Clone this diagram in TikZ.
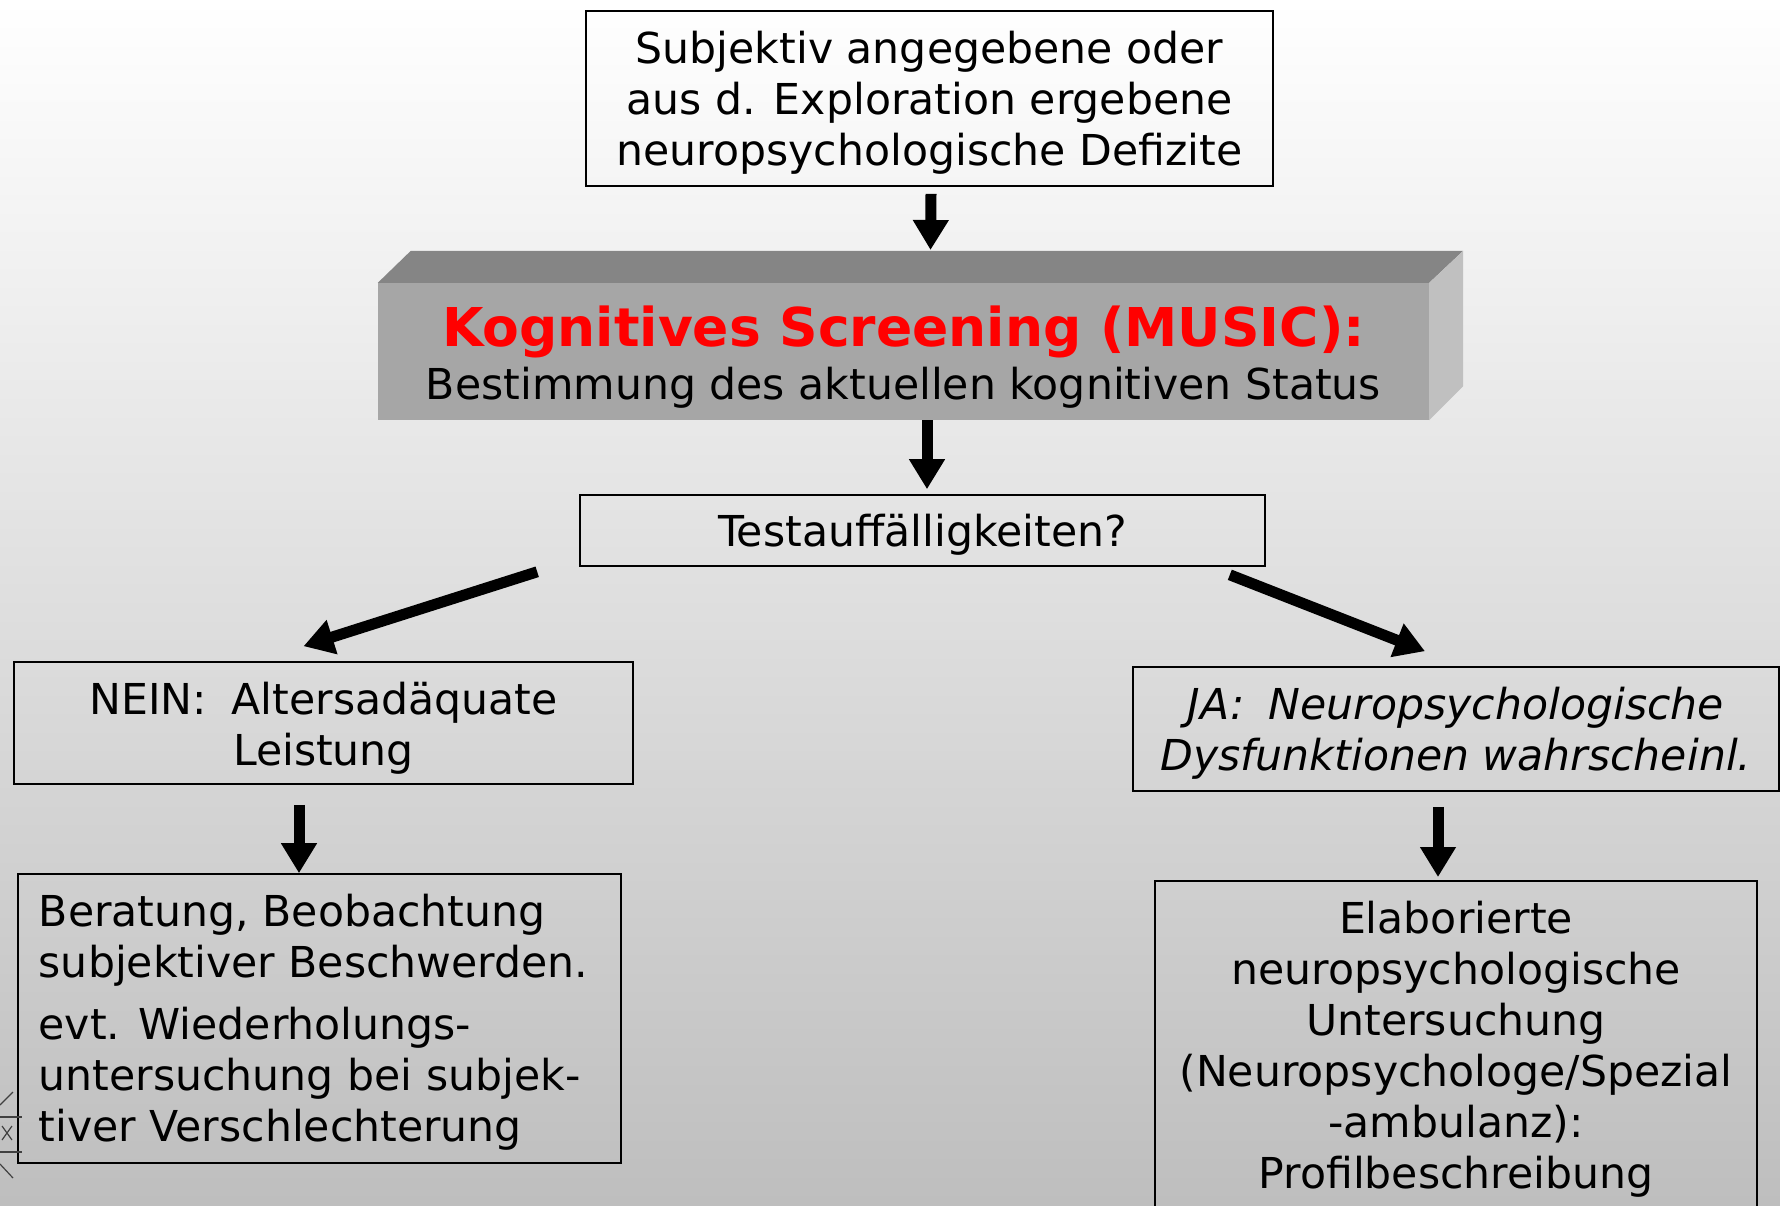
\documentclass[tikz,border=0pt]{standalone}
\usepackage{fontspec}
\setmainfont{DejaVu Sans}
\usetikzlibrary{arrows.meta,calc}
\definecolor{topface}{HTML}{858585}
\definecolor{frontface}{HTML}{A6A6A6}
\definecolor{sideface}{HTML}{C0C0C0}
\definecolor{bgbottom}{HTML}{BEBEBE}
\definecolor{artline}{HTML}{404040}
\begin{document}
\begin{tikzpicture}[x=1pt,y=-1pt,
  font=\fontsize{42.6}{51}\selectfont,
  box/.style={draw=black,line width=1.6pt,inner sep=0pt},
  txt/.style={inner sep=0pt,align=center},
  bigarrow/.style={line width=11pt,-{Triangle[width=34pt,length=30pt]}}]
\useasboundingbox (0,0) rectangle (1780,1205);
\shade[top color=white,bottom color=bgbottom] (0,0) rectangle (1780,1205);

% top box
\node[box,minimum width=687pt,minimum height=175pt] (top) at (929.5,98.5) {};
\node[txt] (toptext) at ($(top.center)+(0,4.5)$)
  {Subjektiv angegebene oder\\aus d. Exploration ergebene\\neuropsychologische Defizite};

% 3D screening block
\node[fill=frontface,minimum width=1051pt,minimum height=137pt,inner sep=0pt] (scr) at (903.5,351.5) {};
\fill[topface] (scr.north west) -- ++(33,-32) -- ($(scr.north east)+(34,-32)$) -- (scr.north east) -- cycle;
\fill[sideface] (scr.north east) -- ++(34,-32) -- ($(scr.south east)+(34,-34)$) -- (scr.south east) -- cycle;
\node[txt,anchor=base,text=red,font=\fontsize{53.5}{60}\selectfont\bfseries] (scrtitle) at (903.5,346.5) {Kognitives Screening (MUSIC):};
\node[txt,anchor=base] (scrsub) at (903.5,399) {Bestimmung des aktuellen kognitiven Status};
\coordinate (scrback) at ($(scr.north)+(27,-32)$);

% question box
\node[box,minimum width=685pt,minimum height=71pt] (test) at (922.5,530.5) {};
\node[txt] (testtext) at ($(test.center)+(0,4.6)$) {Testauffälligkeiten?};

% NEIN / JA
\node[box,minimum width=619pt,minimum height=122pt] (nein) at (323.5,723) {};
\node[txt] (neintext) at ($(nein.center)+(0,5)$) {NEIN:\hspace{25pt}Altersadäquate\\Leistung};
\node[box,minimum width=646pt,minimum height=124pt] (ja) at (1456,729) {};
\node[txt,font=\fontsize{42.6}{51}\selectfont\itshape] (jatext) at ($(ja.center)+(0,4.5)$) {JA:\hspace{24pt}Neuropsychologische\\Dysfunktionen wahrscheinl.};

% bottom boxes
\node[box,minimum width=603pt,minimum height=289pt] (ber) at (319.5,1018.5) {};
\node[txt,align=left,anchor=west] (bertext) at (38.6,1022.5)
  {Beratung, Beobachtung\\subjektiver Beschwerden.\\[11pt]evt. Wiederholungs-\\untersuchung bei subjek-\\tiver Verschlechterung};
\node[box,minimum width=602pt,minimum height=360pt,anchor=north] (elab) at (1456,880) {};
\node[txt] (elabtext) at (1456,1049)
  {Elaborierte\\neuropsychologische\\Untersuchung\\(Neuropsychologe/Spezial\\-ambulanz):\\Profilbeschreibung};

% arrows
\draw[bigarrow] ($(top.south)+(1.5,7)$) -- (scrback |- 0,250);
\draw[bigarrow] ($(scr.south)+(23.5,0)$) -- ($(test.north)+(4.5,-5)$);
\draw[bigarrow] ($(test.south west)+(-42,5)$) -- ($(nein.north)+(-20,-15)$);
\draw[bigarrow] ($(test.south east)+(-36,8)$) -- ($(ja.north)+(-31,-15)$);
\draw[bigarrow] ($(nein.south)+(-24.5,20)$) -- ($(ber.north)+(-20.5,0)$);
\draw[bigarrow] ($(ja.south)+(-18,15)$) -- ($(elab.north)+(-18,-3)$);

% small artefact lines at left edge
\draw[artline,line width=1.2pt] (0,1105) -- (13,1092);
\draw[artline,line width=1.2pt] (0,1117) -- (22,1117);
\draw[artline,line width=1.2pt] (2,1126) -- (12,1140) (2,1140) -- (12,1126);
\draw[artline,line width=1.2pt] (0,1152) -- (22,1152);
\draw[artline,line width=1.2pt] (0,1164) -- (13,1178);
\end{tikzpicture}
\end{document}
